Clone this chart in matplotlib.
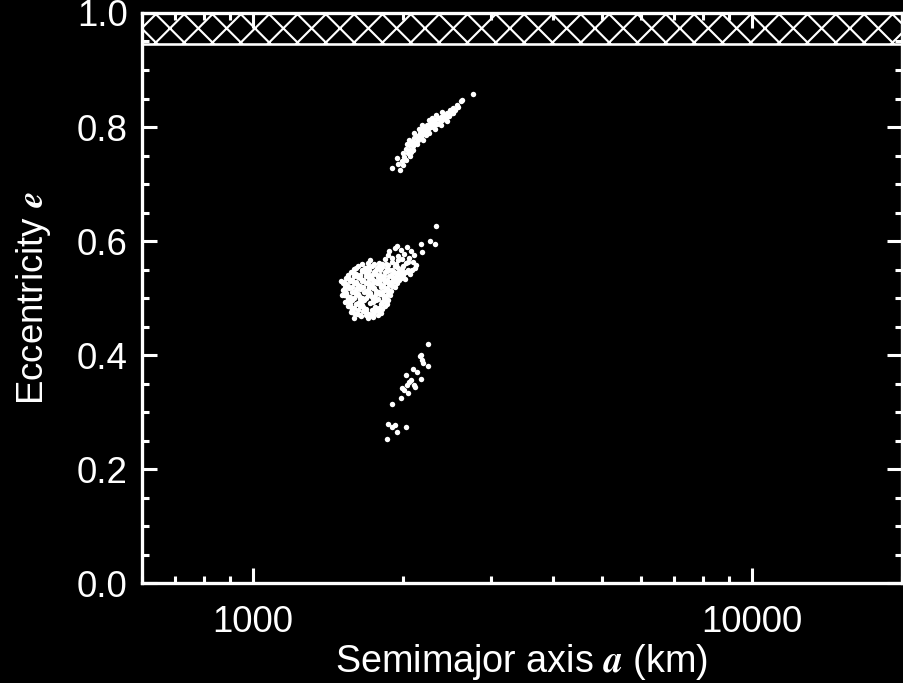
# Eccentricity vs semimajor axis scatter, black background, IDL-like look.

import numpy as np
import matplotlib
matplotlib.use('Agg')
import matplotlib.pyplot as plt
from matplotlib.ticker import FormatStrFormatter, NullFormatter, MultipleLocator

# (a [km], e) pairs, one list per clump
upper_streak = [
    (1905, .728), (1975, .725), (1950, .746), (1990, .740), (2000, .755),
    (2015, .748), (2030, .762), (2045, .754), (2060, .768), (2070, .760),
    (2085, .774), (2095, .766), (2110, .780), (2120, .772), (2135, .785),
    (2145, .777), (2160, .790), (2170, .782), (2185, .795), (2195, .787),
    (2210, .799), (2220, .791), (2235, .803), (2250, .796), (2265, .806),
    (2280, .800), (2295, .809), (2310, .803), (2325, .812), (2340, .806),
    (2355, .815), (2370, .809), (2385, .818), (2400, .812), (2420, .821),
    (2435, .816), (2455, .825), (2470, .820), (2490, .829), (2505, .825),
    (2525, .834), (2545, .830), (2565, .839), (2585, .836), (2610, .845),
    (2630, .848), (2760, .858), (2040, .770), (2100, .760), (2190, .800),
    (2290, .815), (2380, .804), (2005, .734), (2070, .749), (2150, .796),
    (2230, .786), (2330, .821), (2450, .811),
    (1960, .735), (2025, .742), (2080, .757), (2140, .770), (2200, .778),
    (2260, .789), (2320, .797), (2255, .812), (2180, .803), (2110, .789),
    (2060, .778), (2400, .826), (2520, .824),
]

main_clump = [
    (1930, .588), (1985, .584), (2040, .590), (2075, .582),
    (1870, .576), (1955, .574), (2010, .578), (2060, .571), (2110, .575),
    (1720, .566), (1790, .562), (1840, .568), (1905, .563), (1960, .566),
    (2025, .561), (2095, .564), (2130, .558),
    (1630, .556), (1680, .552), (1735, .557), (1775, .553), (1820, .555),
    (1880, .550), (1925, .556), (1990, .552), (2050, .549), (2115, .553),
    (1575, .546), (1615, .542), (1660, .547), (1705, .543), (1750, .546),
    (1800, .541), (1845, .545), (1895, .541), (1950, .544), (2005, .540),
    (2070, .543),
    (1540, .536), (1580, .532), (1625, .537), (1665, .531), (1715, .535),
    (1760, .530), (1810, .536), (1860, .532), (1910, .535), (1965, .531),
    (2020, .534),
    (1520, .526), (1555, .522), (1600, .527), (1640, .521), (1685, .526),
    (1730, .522), (1775, .527), (1825, .521), (1875, .525), (1930, .520),
    (1515, .514), (1560, .517), (1595, .511), (1645, .516), (1690, .512),
    (1740, .517), (1790, .511), (1840, .515), (1890, .512),
    (1525, .505), (1570, .502), (1615, .507), (1660, .501), (1705, .506),
    (1755, .502), (1800, .507), (1850, .503),
    (1535, .494), (1580, .497), (1625, .491), (1675, .496), (1720, .492),
    (1770, .497), (1820, .493), (1865, .497),
    (1555, .486), (1600, .482), (1640, .487), (1790, .483), (1840, .486),
    (1575, .476), (1620, .472), (1665, .477), (1710, .473), (1760, .478),
    (1810, .474),
    (1600, .466), (1650, .468), (1700, .465), (1745, .467),
    (1660, .560), (1705, .561), (1755, .559), (1815, .560), (1870, .558),
    (1940, .559), (2000, .557),
    (1600, .551), (1655, .549), (1710, .550), (1760, .548), (1800, .550),
    (1855, .547), (1905, .549), (1965, .548), (2030, .546), (2085, .550),
    (1555, .540), (1600, .539), (1640, .541), (1685, .538), (1735, .540),
    (1780, .537), (1830, .539), (1880, .538), (1935, .539), (1985, .536),
    (1525, .529), (1565, .530), (1610, .528), (1655, .530), (1700, .529),
    (1745, .527), (1790, .530), (1845, .528), (1890, .529), (1950, .526),
    (1535, .519), (1580, .520), (1620, .518), (1665, .520), (1710, .519),
    (1755, .518), (1805, .520), (1860, .518), (1905, .521),
    (1540, .509), (1580, .510), (1625, .508), (1670, .510), (1720, .509),
    (1770, .508), (1820, .510), (1870, .508),
    (1550, .499), (1595, .500), (1645, .498), (1690, .500), (1740, .499),
    (1785, .498), (1835, .500),
    (1565, .489), (1610, .490), (1660, .488), (1810, .489), (1855, .490),
    (1580, .479), (1625, .480), (1690, .481), (1735, .479), (1785, .480),
    (1640, .471), (1690, .470), (1730, .471), (1785, .470),
    (1610, .553), (1700, .555), (1790, .557), (1860, .552),
    (1595, .544), (1680, .546), (1770, .543), (1920, .545),
    (1560, .534), (1645, .536), (1735, .533), (1830, .531), (1940, .535),
    (1540, .524), (1620, .524), (1710, .525), (1800, .524), (1900, .523),
    (1530, .512), (1610, .514), (1700, .515), (1765, .513), (1865, .514),
    (1545, .503), (1635, .504), (1725, .503), (1825, .505),
    (1560, .493), (1650, .492), (1745, .494), (1840, .495),
    (1575, .484), (1665, .484), (1760, .485), (1815, .481),
    (1600, .474), (1690, .476), (1740, .473),
    (1900, .570), (1990, .568), (2050, .563), (1850, .560), (1950, .555),
    (2000, .546), (1975, .540), (1920, .530),
    (1880, .583), (1945, .591), (1505, .530), (1512, .505), (1885, .505),
    (2170, .595), (2185, .581), (2270, .600), (2320, .595), (2330, .627),
]

lower_streak = [
    (2250, .419), (2175, .400), (2185, .391), (2200, .386), (2250, .381),
    (2100, .375), (2140, .371), (2030, .365), (2080, .356), (2175, .358),
    (1990, .342), (2035, .347), (2110, .347), (2045, .333), (2115, .344),
    (1980, .325), (1905, .314), (1865, .279), (1900, .274), (1950, .265),
    (2030, .274), (1855, .253), (1930, .277), (2010, .339), (2060, .353),
    (2160, .398),
]

a_range = (600, 20000)
e_range = (0.0, 1.0)
e_forbidden = 0.945  # hatched band up to e = 1

DPI = 170
plt.rcParams['font.family'] = ['Liberation Sans', 'DejaVu Sans']
plt.rcParams['mathtext.fontset'] = 'stix'
plt.rcParams['hatch.color'] = 'white'
plt.rcParams['hatch.linewidth'] = 0.9

fig = plt.figure(figsize=(903 / DPI, 683 / DPI), dpi=DPI, facecolor='black')
ax = fig.add_axes([0.157, 0.146, 0.842, 0.835])
ax.set_facecolor('black')

ax.axhspan(e_forbidden, 1.0, facecolor='black', edgecolor='white',
           hatch='xx', lw=1.1, zorder=1)

for pts in (upper_streak, main_clump, lower_streak):
    arr = np.array(pts)
    ax.plot(arr[:, 0], arr[:, 1], 'o', color='white', ms=2.3, mew=0, zorder=3)

ax.set_xscale('log')
ax.set_xlim(*a_range)
ax.set_ylim(*e_range)
ax.xaxis.set_major_formatter(FormatStrFormatter('%d'))
ax.xaxis.set_minor_formatter(NullFormatter())
ax.yaxis.set_major_locator(MultipleLocator(0.2))
ax.yaxis.set_minor_locator(MultipleLocator(0.05))
ax.yaxis.set_major_formatter(FormatStrFormatter('%.1f'))

ax.tick_params(which='both', direction='in', top=True, right=True,
               colors='white', width=1.3, labelsize=15.5)
ax.tick_params(which='major', length=6.5)
ax.tick_params(which='minor', length=3)
ax.tick_params(axis='x', pad=9)
ax.tick_params(axis='y', pad=6)
for sp in ax.spines.values():
    sp.set_color('white')
    sp.set_linewidth(1.4)

ax.set_xlabel(r'Semimajor axis $\mathbfit{a}$ (km)', color='white',
              fontsize=16, labelpad=1)
ax.set_ylabel(r'Eccentricity $\mathbfit{e}$', color='white',
              fontsize=15.5, labelpad=10)

fig.savefig('out.png', dpi=DPI, facecolor='black')
